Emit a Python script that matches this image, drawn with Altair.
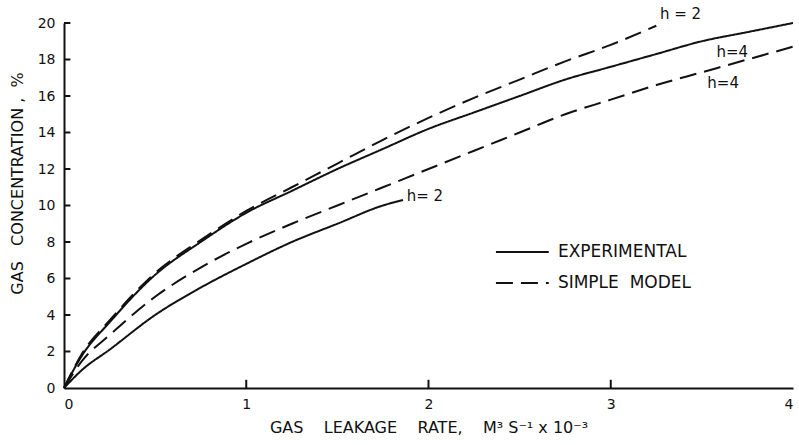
import altair as alt
import pandas as pd

# Experimental, h = 4 (upper solid)
exp4_x = [0, 0.1, 0.25, 0.5, 0.75, 1.0, 1.25, 1.5, 1.75, 2.0, 2.25, 2.5, 2.75, 3.0, 3.25, 3.5, 3.75, 4.0]
exp4_y = [0, 1.8, 3.6, 6.2, 8.0, 9.6, 10.8, 12.0, 13.1, 14.2, 15.1, 16.0, 16.9, 17.6, 18.3, 19.0, 19.5, 20.0]

# Simple model, h = 2 (upper dashed)
mod2_x = [0, 0.1, 0.25, 0.5, 0.75, 1.0, 1.25, 1.5, 1.75, 2.0, 2.25, 2.5, 2.75, 3.0, 3.25]
mod2_y = [0, 1.9, 3.7, 6.3, 8.1, 9.7, 11.0, 12.3, 13.6, 14.8, 15.9, 16.9, 17.9, 18.8, 19.85]

# Simple model, h = 4 (lower dashed)
mod4_x = [0, 0.1, 0.25, 0.5, 0.75, 1.0, 1.25, 1.5, 1.75, 2.0, 2.25, 2.5, 2.75, 3.0, 3.25, 3.5, 3.75, 4.0]
mod4_y = [0, 1.5, 2.9, 5.0, 6.6, 7.9, 9.0, 10.0, 11.0, 12.0, 13.0, 14.0, 15.0, 15.8, 16.6, 17.3, 18.0, 18.7]

# Experimental, h = 2 (lower solid)
exp2_x = [0, 0.1, 0.25, 0.5, 0.75, 1.0, 1.25, 1.5, 1.75, 1.86]
exp2_y = [0, 1.0, 2.1, 4.0, 5.5, 6.8, 8.0, 9.0, 10.0, 10.3]

# Curve labels
lab_text = ["h= 2", "h = 2", "h=4", "h=4"]
lab_x = [1.88, 3.27, 3.58, 3.53]
lab_y = [10.5, 20.5, 18.4, 16.7]

# Legend entries
leg_text = ["EXPERIMENTAL", "SIMPLE\u00a0\u00a0MODEL"]
leg_type = ["EXPERIMENTAL", "SIMPLE MODEL"]
leg_x0 = [2.37, 2.37]
leg_x1 = [2.66, 2.66]
leg_xt = [2.71, 2.71]
leg_y = [7.45, 5.75]

x_ticks = [1.0, 2.0, 3.0]
y_ticks = [2.0, 4.0, 6.0, 8.0, 10.0, 12.0, 14.0, 16.0, 18.0, 20.0]
x_label_values = [0, 1, 2, 3, 4]
y_label_values = [0, 2, 4, 6, 8, 10, 12, 14, 16, 18, 20]

FONT = "DejaVu Sans"
INK = "#111111"
SPX = "\u00a0\u00a0\u00a0\u00a0"
SPY = "\u00a0\u00a0\u00a0"

rows = []
for name, typ, xs, ys in [
    ("exp4", "EXPERIMENTAL", exp4_x, exp4_y),
    ("mod2", "SIMPLE MODEL", mod2_x, mod2_y),
    ("mod4", "SIMPLE MODEL", mod4_x, mod4_y),
    ("exp2", "EXPERIMENTAL", exp2_x, exp2_y),
]:
    for a, b in zip(xs, ys):
        rows.append({"series": name, "type": typ, "x": a, "y": b})
df = pd.DataFrame(rows)

# inward tick marks as short segments (data units)
TX = 0.035
TY = 0.45
tick_rows = []
for t in x_ticks:
    tick_rows.append({"x": t, "x2": t, "y": 0.0, "y2": TY})
for t in y_ticks:
    tick_rows.append({"x": 0.0, "x2": TX, "y": t, "y2": t})
tick_df = pd.DataFrame(tick_rows)

xscale = alt.Scale(domain=[0, 4], nice=False)
yscale = alt.Scale(domain=[0, 20], nice=False)
dash_scale = alt.Scale(domain=["EXPERIMENTAL", "SIMPLE MODEL"], range=[[1, 0], [17, 8]])

x_axis = alt.Axis(values=x_label_values, format="d", ticks=False, grid=False, labelOverlap=False,
                  zindex=0, title=f"GAS{SPX}LEAKAGE{SPX}RATE,{SPX}M³ S⁻¹ x 10⁻³")
y_axis = alt.Axis(values=y_label_values, format="d", ticks=False, grid=False, labelOverlap=False,
                  zindex=0, title=f"GAS{SPY}CONCENTRATION\u00a0,\u00a0\u00a0%")


def X(field):
    return alt.X(field, type="quantitative", scale=xscale, axis=x_axis)


def Y(field):
    return alt.Y(field, type="quantitative", scale=yscale, axis=y_axis)


curve_lines = alt.Chart(df).mark_line(
    color=INK, strokeWidth=2, clip=False, interpolate="monotone"
).encode(
    x=X("x"), y=Y("y"),
    detail="series:N",
    strokeDash=alt.StrokeDash("type:N", scale=dash_scale, legend=None),
    order="x:Q",
)

tick_marks = alt.Chart(tick_df).mark_rule(color=INK, strokeWidth=2, opacity=1, clip=False).encode(
    x=X("x"), x2=alt.X2("x2"), y=Y("y"), y2=alt.Y2("y2"),
)

labels = alt.Chart(pd.DataFrame({"t": lab_text, "x": lab_x, "y": lab_y})).mark_text(
    align="left", baseline="middle", fontSize=15, font=FONT, color=INK, clip=False
).encode(x=X("x"), y=Y("y"), text="t:N")

leg_df = pd.DataFrame({"t": leg_text, "type": leg_type, "x": leg_x0, "x1": leg_x1,
                       "xt": leg_xt, "y": leg_y})
leg_lines = alt.Chart(leg_df).mark_rule(color=INK, strokeWidth=2).encode(
    x=X("x"), x2=alt.X2("x1"), y=Y("y"),
    strokeDash=alt.StrokeDash("type:N", scale=dash_scale, legend=None),
)
leg_text_m = alt.Chart(leg_df).mark_text(
    align="left", baseline="middle", fontSize=17, font=FONT, color=INK
).encode(x=X("xt"), y=Y("y"), text="t:N")

chart = alt.layer(curve_lines, labels, leg_lines, leg_text_m, tick_marks).properties(
    width=729, height=365,
    autosize=alt.AutoSizeParams(type="none"),
    padding={"left": 64, "top": 23, "right": 6, "bottom": 57},
    background="white",
).configure_view(stroke=None).configure_axis(
    domainColor=INK, domainWidth=2, labelFont=FONT, titleFont=FONT,
    labelFontSize=14, titleFontSize=16, labelColor=INK, titleColor=INK,
    titleFontWeight="normal", labelPadding=9, labelOverlap=False, zindex=0,
).configure_axisX(titlePadding=8, labelAngle=0).configure_axisY(titlePadding=12, titleY=160)

chart.save("out.html", embed_options={"renderer": "svg", "actions": False})
